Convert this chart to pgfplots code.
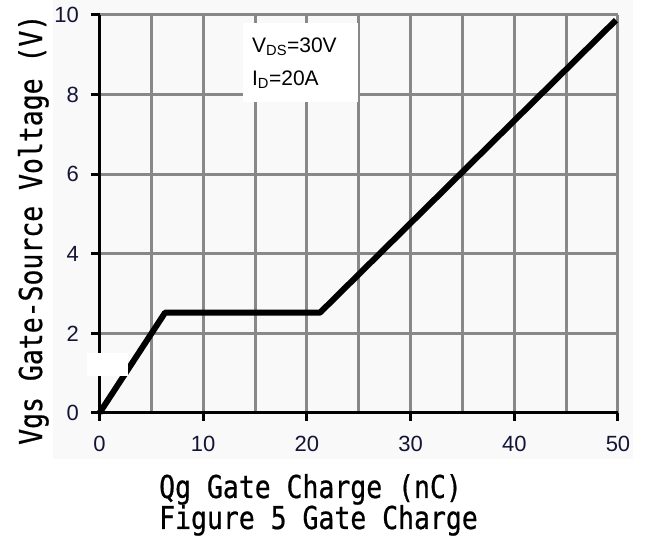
\documentclass[border=0pt]{standalone}
\usepackage{fontspec}
\setmainfont{Liberation Sans}
\newfontfamily\monof[FakeStretch=0.84,FakeBold=0.6]{DejaVu Sans Mono}
\usepackage{pgfplots}
\pgfplotsset{compat=1.18}
\definecolor{gridc}{RGB}{136,136,136}
\definecolor{tickc}{RGB}{20,20,55}
\definecolor{panel}{RGB}{249,249,249}
\begin{document}
\begin{tikzpicture}[x=1pt,y=1pt]
\path[use as bounding box] (0,0) rectangle (649,537);
\fill[panel] (53,78) rectangle (633,537);
\begin{axis}[
  at={(99.5pt,124pt)}, anchor=south west,
  scale only axis, width=518.5pt, height=398pt,
  xmin=0, xmax=50, ymin=0, ymax=10,
  axis lines=left,
  axis line style={-, black, line width=3pt},
  xtick={0,10,20,30,40,50}, ytick={0,2,4,6,8,10},
  minor xtick={5,15,25,35,45},
  grid=both,
  major grid style={gridc, line width=3pt},
  minor grid style={gridc, line width=3pt},
  xtick align=outside, ytick align=outside,
  major tick length=8pt, minor tick length=0pt,
  major tick style={draw=black, line width=3pt},
  ticklabel style={font=\fontsize{22}{26}\selectfont, text=tickc},
  xticklabel style={yshift=-12pt},
  yticklabel style={xshift=-9pt},
  /pgf/number format/assume math mode=true,
  clip=false,
]
\fill[white] (axis cs:13.84,7.81) rectangle (axis cs:24.9,9.8);
\node[anchor=base west, font=\fontsize{21}{24}\selectfont, inner sep=0pt] at (axis cs:14.7,9.05) {V\textsubscript{DS}=30V};
\node[anchor=base west, font=\fontsize{21}{24}\selectfont, inner sep=0pt] at (axis cs:14.7,8.24) {I\textsubscript{D}=20A};
\pgfplotsinvokeforeach{0,2,4,6,8,10}{\draw[black, line width=3pt] (axis cs:0,#1) -- ++(-8pt,0pt);}
\pgfplotsinvokeforeach{0,10,20,30,40,50}{\draw[black, line width=3pt] (axis cs:#1,0) -- ++(0pt,-8pt);}
\addplot[black, line width=6pt, line join=round] coordinates {
  (0,0) (6.32,2.52) (21.26,2.52) (49.8,9.87)
};
\coordinate (g1) at (axis cs:-1.24,0.93);
\coordinate (g2) at (axis cs:2.78,1.51);
\end{axis}
\fill[white] (g1) rectangle (g2);
\node[anchor=base west, font=\monof\fontsize{31.5}{36}\selectfont, inner sep=0pt] at (159,39) {Qg Gate Charge (nC)};
\node[anchor=base west, font=\monof\fontsize{31.5}{36}\selectfont, inner sep=0pt] at (159,8) {Figure 5 Gate Charge};
\node[rotate=90, anchor=base west, font=\monof\fontsize{31.5}{36}\selectfont, inner sep=0pt] at (42,92) {Vgs Gate-Source Voltage (V)};
\end{tikzpicture}
\end{document}
